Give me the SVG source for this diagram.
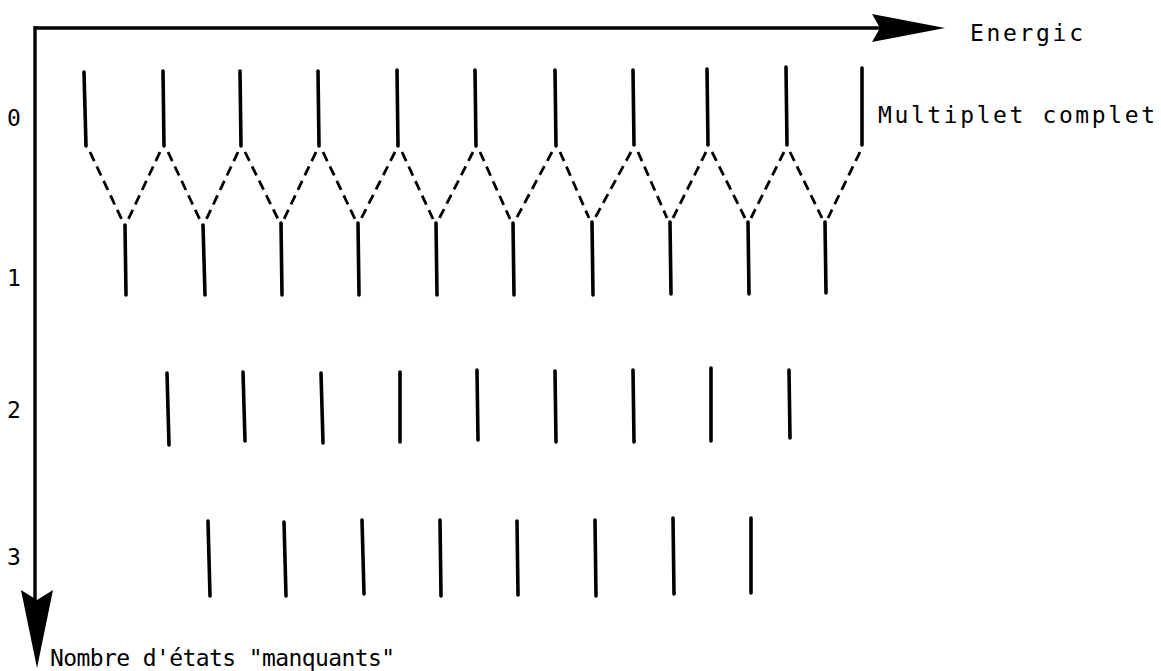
<svg xmlns="http://www.w3.org/2000/svg" width="1161" height="671" viewBox="0 0 1161 671">
<style>
.t{font-family:"DejaVu Sans Mono","Liberation Mono",monospace;font-size:23px;fill:#000}
.s{stroke:#000;stroke-width:3.6;stroke-linecap:round;fill:none}
.d{stroke:#000;stroke-width:2.8;stroke-dasharray:10 6;fill:none}
.ax{stroke:#000;stroke-width:3.4;fill:none}
</style>
<rect width="1161" height="671" fill="#fff"/>
<g id="axes">
<path class="ax" d="M35 28 H880"/>
<polygon points="872,14 945,28 872,42 880,28" fill="#000"/>
<path class="ax" d="M35 26 V600"/>
<polygon points="21,590 37,668 53,590 37,600" fill="#000"/>
</g>
<g id="labels">
<text class="t" x="7" y="126">0</text>
<text class="t" x="7" y="286">1</text>
<text class="t" x="7" y="418">2</text>
<text class="t" x="7" y="565">3</text>
<text class="t" x="970" y="41" textLength="113" lengthAdjust="spacing">Energic</text>
<text class="t" x="878" y="123" textLength="277" lengthAdjust="spacing">Multiplet complet</text>
<text class="t" x="50" y="666" textLength="345" lengthAdjust="spacing">Nombre d'états "manquants"</text>
</g>
<g id="row0">
<line class="s" x1="84" y1="72" x2="86" y2="146"/>
<line class="s" x1="163" y1="71" x2="164" y2="146"/>
<line class="s" x1="240" y1="71" x2="241" y2="146"/>
<line class="s" x1="318" y1="71" x2="319" y2="146"/>
<line class="s" x1="397" y1="70" x2="398" y2="146"/>
<line class="s" x1="475" y1="70" x2="476" y2="146"/>
<line class="s" x1="555" y1="70" x2="556" y2="146"/>
<line class="s" x1="633" y1="70" x2="634" y2="145"/>
<line class="s" x1="707" y1="69" x2="708" y2="145"/>
<line class="s" x1="786" y1="67" x2="787" y2="145"/>
<line class="s" x1="862" y1="68" x2="862" y2="145"/>
</g>
<g id="row1">
<line class="s" x1="125" y1="225" x2="126" y2="295"/>
<line class="s" x1="203" y1="225" x2="205" y2="295"/>
<line class="s" x1="281" y1="223" x2="282" y2="295"/>
<line class="s" x1="358" y1="223" x2="359" y2="295"/>
<line class="s" x1="436" y1="223" x2="437" y2="295"/>
<line class="s" x1="513" y1="223" x2="514" y2="295"/>
<line class="s" x1="592" y1="222" x2="593" y2="295"/>
<line class="s" x1="670" y1="222" x2="671" y2="294"/>
<line class="s" x1="748" y1="222" x2="749" y2="294"/>
<line class="s" x1="825" y1="222" x2="826" y2="293"/>
</g>
<g id="connectors">
<path class="d" d="M90 152 L122 220 M160 152 L128 220"/>
<path class="d" d="M168 152 L200 220 M238 152 L206 220"/>
<path class="d" d="M245 152 L278 219 M316 152 L284 219"/>
<path class="d" d="M323 152 L355 219 M395 152 L361 219"/>
<path class="d" d="M402 152 L433 219 M473 152 L439 219"/>
<path class="d" d="M480 152 L510 219 M552 152 L516 219"/>
<path class="d" d="M560 152 L589 218 M631 152 L595 218"/>
<path class="d" d="M638 152 L667 218 M706 152 L673 218"/>
<path class="d" d="M712 152 L745 218 M784 152 L751 218"/>
<path class="d" d="M790 152 L822 218 M860 152 L828 218"/>
</g>
<g id="row2">
<line class="s" x1="167" y1="373" x2="169" y2="445"/>
<line class="s" x1="243" y1="372" x2="245" y2="441"/>
<line class="s" x1="321" y1="373" x2="323" y2="443"/>
<line class="s" x1="400" y1="372" x2="400" y2="442"/>
<line class="s" x1="477" y1="370" x2="478" y2="440"/>
<line class="s" x1="555" y1="371" x2="556" y2="442"/>
<line class="s" x1="633" y1="370" x2="634" y2="442"/>
<line class="s" x1="711" y1="368" x2="711" y2="441"/>
<line class="s" x1="789" y1="370" x2="790" y2="438"/>
</g>
<g id="row3">
<line class="s" x1="208" y1="521" x2="210" y2="596"/>
<line class="s" x1="284" y1="522" x2="286" y2="596"/>
<line class="s" x1="362" y1="520" x2="364" y2="594"/>
<line class="s" x1="440" y1="520" x2="441" y2="596"/>
<line class="s" x1="517" y1="521" x2="518" y2="595"/>
<line class="s" x1="595" y1="520" x2="596" y2="596"/>
<line class="s" x1="673" y1="518" x2="674" y2="594"/>
<line class="s" x1="751" y1="518" x2="751" y2="593"/>
</g>
</svg>
